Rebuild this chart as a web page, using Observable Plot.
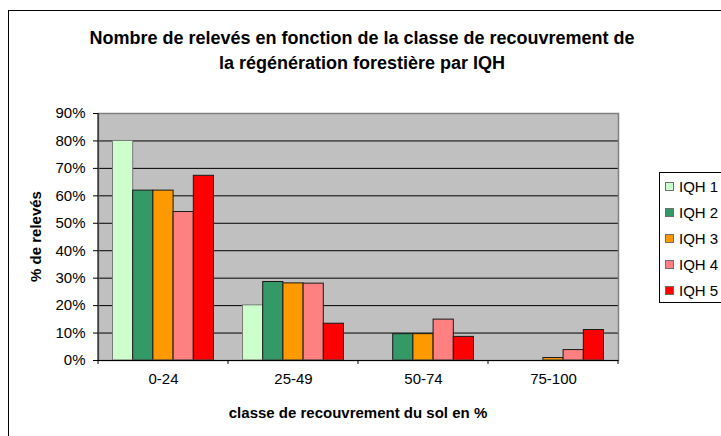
<!DOCTYPE html>
<html>
<head>
<meta charset="utf-8">
<script src="https://cdn.jsdelivr.net/npm/d3@7"></script>
<script src="https://cdn.jsdelivr.net/npm/@observablehq/plot@0.6"></script>
<style>
html, body { margin: 0; padding: 0; background: #fff; }
#wrap { position: relative; width: 721px; height: 436px; overflow: hidden;
        font-family: "Liberation Sans", Arial, sans-serif; color: #000; background: #fff; }
#outer { position: absolute; left: 8px; top: 10px; width: 900px; height: 600px;
         border: 1px solid #000; box-sizing: border-box; }
#chart { position: absolute; left: 0; top: 0; }
.t { position: absolute; white-space: nowrap; line-height: 1; }
#legend { position: absolute; left: 659px; top: 172px; width: 80px; height: 131px;
          border: 1px solid #000; box-sizing: border-box; background: #fff; }
.sw { position: absolute; width: 9px; height: 9px; box-sizing: border-box; border: 1px solid #6e6e6e; }
</style>
</head>
<body>
<div id="wrap">
  <div id="outer"></div>
  <div id="chart"></div>
  <div class="t" style="left:0;width:724px;text-align:center;top:29px;font-size:18px;font-weight:bold;">Nombre de relevés en fonction de la classe de recouvrement de</div>
  <div class="t" style="left:0;width:724px;text-align:center;top:54px;font-size:18px;font-weight:bold;">la régénération forestière par IQH</div>
  <div class="t" style="left:0;width:716px;text-align:center;top:405px;font-size:15px;font-weight:bold;">classe de recouvrement du sol en %</div>
  <div class="t" style="left:-65.5px;width:200px;text-align:center;top:229px;font-size:15px;font-weight:bold;transform:rotate(-90deg);transform-origin:50% 50%;">% de relevés</div>
  <div id="legend"></div>
</div>
<script>
// ---- data ----
const categories = ["0-24", "25-49", "50-74", "75-100"];
const series = ["IQH 1", "IQH 2", "IQH 3", "IQH 4", "IQH 5"];
const iqh1 = [0.800, 0.201, 0.000, 0.000];
const iqh2 = [0.619, 0.286, 0.096, 0.000];
const iqh3 = [0.619, 0.281, 0.096, 0.009];
const iqh4 = [0.541, 0.280, 0.149, 0.038];
const iqh5 = [0.673, 0.134, 0.086, 0.111];
const colors = ["#CCFFCC", "#339966", "#FF9900", "#FF8080", "#FF0000"];
const yTicks = [0, 0.1, 0.2, 0.3, 0.4, 0.5, 0.6, 0.7, 0.8, 0.9];

const values = [iqh1, iqh2, iqh3, iqh4, iqh5];
const rows = categories.flatMap((c, j) =>
  series.map((s, i) => ({category: c, series: s, value: values[i][j]})));

// ---- layout ----
const W = 721, H = 436;
const mL = 98, mR = 103, mT = 113, mB = 76;
const step = (W - mL - mR) / categories.length;
const outerPad = 14.5;
const barW = (step - 2 * outerPad) / series.length;

const barMarks = series.map((s, i) =>
  Plot.barY(rows.filter(d => d.series === s && d.value > 0), {
    x: "category",
    y: "value",
    fill: colors[i],
    stroke: i === 0 ? "#7a7a7a" : "#1a1a1a",
    strokeWidth: 1,
    insetLeft: outerPad + barW * i,
    insetRight: step - outerPad - barW * (i + 1)
  })
);

const chart = Plot.plot({
  width: W,
  height: H,
  marginLeft: mL,
  marginRight: mR,
  marginTop: mT,
  marginBottom: mB,
  style: {fontFamily: '"Liberation Sans", Arial, sans-serif', fontSize: "15px", background: "transparent", color: "#000"},
  x: {type: "band", domain: categories, padding: 0, axis: null, label: null},
  y: {domain: [0, 0.9], axis: null, label: null},
  marks: [
    Plot.frame({fill: "#C0C0C0"}),
    Plot.ruleY(yTicks.filter(t => t > 0 && t < 0.9), {stroke: "#000", strokeWidth: 1}),
    ...barMarks,
    Plot.frame({stroke: "#808080", strokeWidth: 1.5}),
    Plot.ruleY([0], {stroke: "#000"}),
    // left axis line (extends slightly below as the first boundary tick)
    Plot.barY([categories[0]], {x: d => d, y1: 0, y2: 0.9, fill: "#000",
      insetLeft: -0.5, insetRight: step - 0.5, insetBottom: -4}),
    // boundary ticks between categories
    Plot.barY(categories.slice(1), {x: d => d, y1: 0, y2: 0, fill: "#000",
      insetLeft: -0.5, insetRight: step - 0.5, insetBottom: -4}),
    Plot.barY([categories[categories.length - 1]], {x: d => d, y1: 0, y2: 0, fill: "#000",
      insetLeft: step - 0.5, insetRight: -0.5, insetBottom: -4}),
    Plot.axisY({ticks: yTicks, tickSize: 5, tickPadding: 8, fontSize: 15, label: null,
      tickFormat: d3.format(".0%"), stroke: "#000"}),
    Plot.text(categories, {x: d => d, text: d => d, frameAnchor: "bottom", dy: 23, fontSize: 15, fill: "#000"})
  ]
});
document.getElementById("chart").appendChild(chart);

// ---- legend ----
const legend = document.getElementById("legend");
series.forEach((s, i) => {
  const cy = 13 + 26 * i;
  const sw = document.createElement("div");
  sw.className = "sw";
  sw.style.left = "5px";
  sw.style.top = (cy - 4.5) + "px";
  sw.style.background = colors[i];
  legend.appendChild(sw);
  const tx = document.createElement("div");
  tx.className = "t";
  tx.style.left = "19px";
  tx.style.top = (cy - 7.5) + "px";
  tx.style.fontSize = "15px";
  tx.textContent = s;
  legend.appendChild(tx);
});
</script>
</body>
</html>
